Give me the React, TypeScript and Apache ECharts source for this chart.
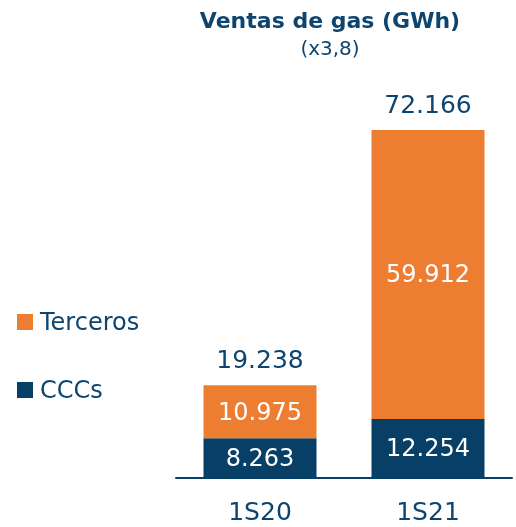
import React, { useEffect, useRef } from "react";
import * as echarts from "echarts";

const categories = ["1S20", "1S21"];
const cccs = [8263, 12254];
const terceros = [10975, 59912];
const totals = [19238, 72166];

const NAVY = "#073F66";
const ORANGE = "#ED7D31";
const TEXT = "#0D4570";
const FONT = "DejaVu Sans";

const fmt = (v: number) => v.toLocaleString("de-DE");

export default function App() {
  const ref = useRef<HTMLDivElement>(null);
  useEffect(() => {
    const chart = echarts.init(ref.current!, null, { renderer: "svg" });
    chart.setOption({
      animation: false,
      textStyle: { fontFamily: FONT },
      graphic: [
        {
          type: "text",
          x: 330,
          y: 20,
          style: {
            text: "Ventas de gas (GWh)",
            fill: TEXT,
            fontSize: 22,
            fontWeight: "bold",
            fontFamily: FONT,
            textAlign: "center",
            textVerticalAlign: "middle",
          },
        },
        {
          type: "text",
          x: 330,
          y: 48,
          style: {
            text: "(x3,8)",
            fill: TEXT,
            fontSize: 20,
            fontFamily: FONT,
            textAlign: "center",
            textVerticalAlign: "middle",
          },
        },
      ],
      legend: {
        orient: "vertical",
        left: 17,
        top: 310,
        padding: 0,
        itemWidth: 16,
        itemHeight: 16,
        itemGap: 44,
        icon: "rect",
        data: ["Terceros", "CCCs"],
        textStyle: { fontSize: 24, color: TEXT, fontFamily: FONT, padding: [0, 0, 0, 2] },
      },
      grid: { left: 176, right: 4, top: 130, bottom: 49 },
      xAxis: {
        type: "category",
        data: categories,
        axisTick: { show: false },
        axisLine: { lineStyle: { color: NAVY, width: 2 } },
        axisLabel: { fontSize: 25, color: TEXT, margin: 21, fontFamily: FONT },
      },
      yAxis: {
        type: "value",
        min: 0,
        max: Math.max(...totals),
        show: false,
        splitLine: { show: false },
      },
      series: [
        {
          name: "CCCs",
          type: "bar",
          stack: "a",
          data: cccs,
          barWidth: 113,
          itemStyle: { color: NAVY },
          label: {
            show: true,
            position: "inside",
            color: "#fff",
            fontSize: 24,
            fontFamily: FONT,
            formatter: (p: any) => fmt(p.value),
          },
        },
        {
          name: "Terceros",
          type: "bar",
          stack: "a",
          data: terceros,
          barWidth: 113,
          itemStyle: { color: ORANGE },
          label: {
            show: true,
            position: "inside",
            color: "#fff",
            fontSize: 24,
            fontFamily: FONT,
            formatter: (p: any) => fmt(p.value),
          },
        },
        {
          name: "Total",
          type: "bar",
          stack: "a",
          data: totals.map(() => 0),
          barWidth: 113,
          itemStyle: { color: "transparent" },
          label: {
            show: true,
            position: "top",
            distance: 13,
            color: TEXT,
            fontSize: 25,
            fontFamily: FONT,
            formatter: (p: any) => fmt(totals[p.dataIndex]),
          },
        },
      ],
    });
    return () => chart.dispose();
  }, []);
  return (
    <div
      ref={ref}
      style={{ position: "fixed", left: 0, top: 0, width: 516, height: 527 }}
    />
  );
}
